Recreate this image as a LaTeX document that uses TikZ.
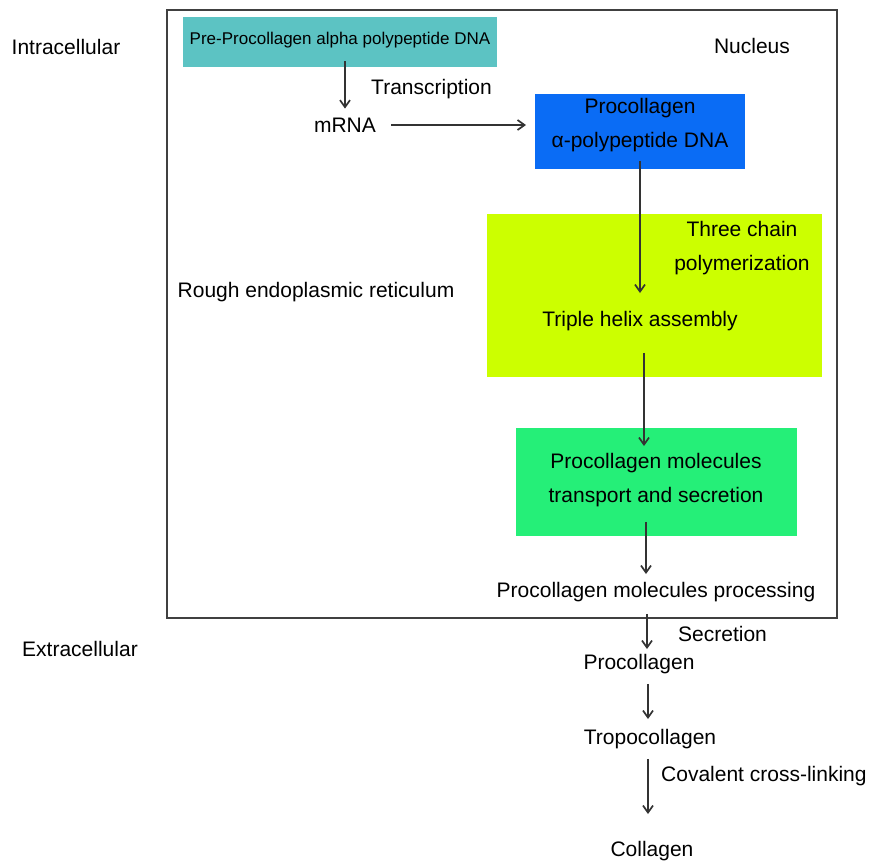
\documentclass[tikz,border=0pt]{standalone}
\usepackage{fontspec}
\setmainfont{Liberation Sans}
\usepackage{xcolor}
\usetikzlibrary{arrows.meta,positioning}
\definecolor{tealbg}{HTML}{5CC3C3}
\definecolor{bluebg}{HTML}{0A6CF5}
\definecolor{limebg}{HTML}{CCFF00}
\definecolor{greenbg}{HTML}{25EF78}
\definecolor{lineclr}{HTML}{333333}
\tikzset{
  fbox/.style  = {draw=none, inner sep=0pt, anchor=north west},
  txt/.style   = {font=\fontsize{21}{34}\selectfont, align=center, inner sep=1pt},
  stxt/.style  = {font=\fontsize{17}{20}\selectfont, align=center, inner sep=1pt},
  ar/.style    = {-{Straight Barb[length=7pt,width=10pt]}, line width=1.7pt, draw=lineclr},
}

\begin{document}
\begin{tikzpicture}[x=1pt, y=-1pt]
  \useasboundingbox (0,0) rectangle (879,863);
  % cell frame
  \draw[line width=1.8pt, draw=black!75] (167,10) rectangle (837,618);
  % coloured boxes
  \node[fbox, fill=tealbg, minimum width=314pt, minimum height=50pt] (tealbox) at (183,17) {};
  \node[fbox, fill=bluebg, minimum width=210pt, minimum height=75pt] (bluebox) at (535,94) {};
  \node[fbox, fill=limebg, minimum width=335pt, minimum height=163pt] (limebox) at (487,214) {};
  \node[fbox, fill=greenbg, minimum width=281pt, minimum height=108pt] (greenbox) at (516,428) {};
  % region labels
  \node[txt] (intra) at (66,47) {Intracellular};
  \node[txt] (nucleus) at (752,46) {Nucleus};
  \node[txt] (rer) at (316,292) {Rough endoplasmic reticulum};
  \node[txt] (extra) at (80,649) {Extracellular};
  % pathway
  \node[stxt] (predna) at (340,40) {Pre-Procollagen alpha polypeptide DNA};
  \node[txt] (mrna) at (345,125) {mRNA};
  \node[txt, anchor=west] (transc) at (370,89) {Transcription};
  \node[txt] (pdna) at (640,125) {Procollagen\\α-polypeptide DNA};
  \node[txt] (chain) at (742,248) {Three chain\\polymerization};
  \node[txt] (helix) at (640,321) {Triple helix assembly};
  \node[txt] (transport) at (656,480) {Procollagen molecules\\transport and secretion};
  \node[txt] (process) at (656,592) {Procollagen molecules processing};
  \node[txt, anchor=west] (secr) at (677,634) {Secretion};
  \node[txt] (procol) at (639,664) {Procollagen};
  \node[txt] (tropo) at (650,739) {Tropocollagen};
  \node[txt, anchor=west] (cross) at (660,776) {Covalent cross-linking};
  \node[txt] (collagen) at (652,851) {Collagen};
  % arrows
  \draw[ar, shorten <=12pt, shorten >=8pt] (predna.south -| mrna.north) -- (mrna.north);
  \draw[ar, shorten <=14pt, shorten >=9pt] (mrna.east) -- (bluebox.west |- mrna.east);
  \draw[ar, shorten <=8pt, shorten >=17pt] (pdna.south) -- (helix.north);
  \draw[ar, shorten <=21pt, shorten >=6pt] ([xshift=4pt]helix.south) -- ([xshift=4pt]helix.south |- transport.north);
  \draw[ar, shorten <=14pt, shorten >=7pt] ([xshift=-10pt]transport.south) -- ([xshift=-10pt]process.north);
  \draw[ar, shorten <=11pt, shorten >=4pt] ([xshift=8pt]procol.north |- process.south) -- ([xshift=8pt]procol.north);
  \draw[ar, shorten <=9pt, shorten >=9pt] ([xshift=-2pt]tropo.north |- procol.south) -- ([xshift=-2pt]tropo.north);
  \draw[ar, shorten <=9pt, shorten >=26pt] ([xshift=-2pt]tropo.south) -- ([xshift=-2pt]tropo.south |- collagen.north);
\end{tikzpicture}
\end{document}
